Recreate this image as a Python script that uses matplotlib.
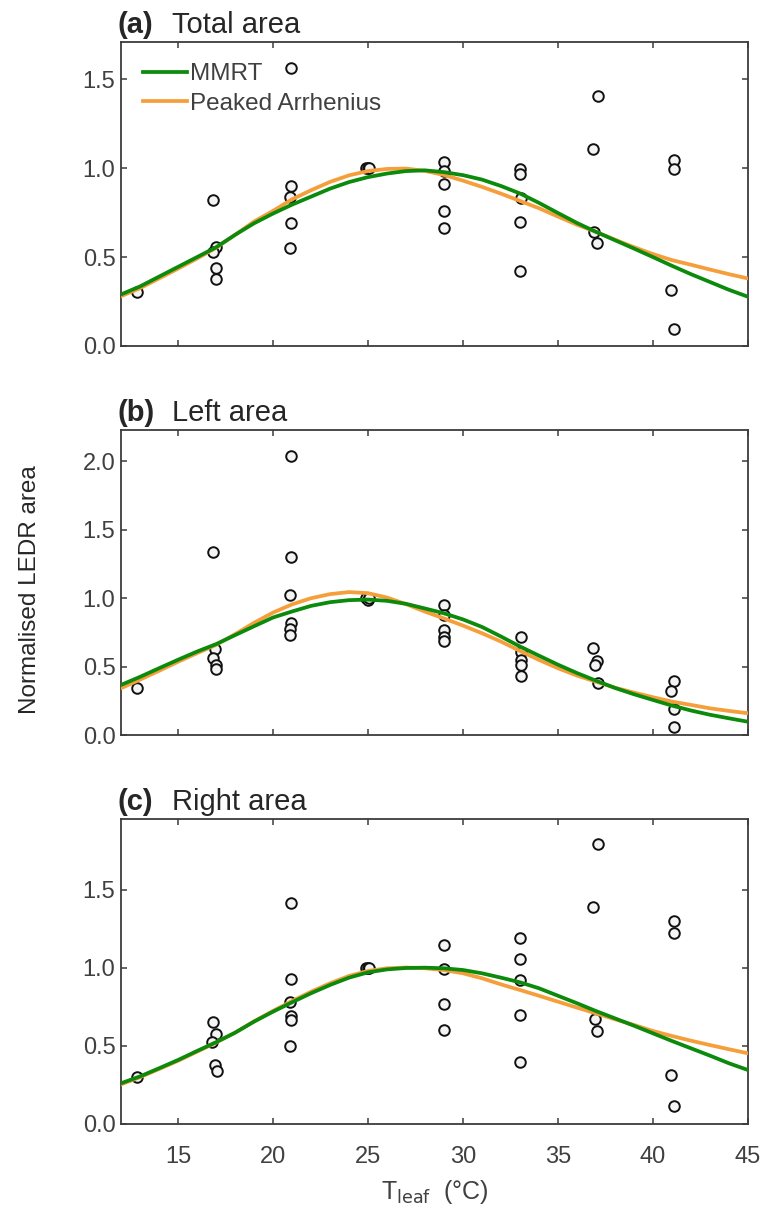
import matplotlib
matplotlib.use("Agg")
import matplotlib.pyplot as plt
import numpy as np

plt.rcParams['font.family'] = ['Liberation Sans', 'DejaVu Sans']

# ---------------- data ----------------
panel_letters = ["(a)", "(b)", "(c)"]
panel_titles = ["Total area", "Left area", "Right area"]
ylims = [1.71, 2.23, 1.955]
yticks_list = [[0.0, 0.5, 1.0, 1.5], [0.0, 0.5, 1.0, 1.5, 2.0], [0.0, 0.5, 1.0, 1.5]]
xticks = [15, 20, 25, 30, 35, 40, 45]

# observed points (T_leaf, normalised area)
a_T = [12.83, 16.83, 17.0, 16.83, 17.0, 17.0, 20.95, 20.95, 20.9, 20.95, 20.9,
       24.9, 25.0, 25.05, 28.98, 28.98, 28.98, 28.98, 28.98, 33.02, 33.02, 33.05, 33.02, 33.02,
       37.09, 36.83, 36.88, 37.05, 41.09, 41.09, 40.95, 41.09]
a_y = [0.305, 0.824, 0.558, 0.526, 0.436, 0.375, 1.566, 0.899, 0.839, 0.693, 0.549,
       1.0, 1.0, 1.0, 1.035, 0.983, 0.914, 0.760, 0.661, 0.998, 0.966, 0.830, 0.698, 0.421,
       1.404, 1.107, 0.642, 0.582, 1.049, 0.998, 0.315, 0.094]

b_T = [12.83, 16.83, 16.96, 16.83, 17.0, 16.98, 20.95, 20.95, 20.9, 20.95, 20.9, 20.9,
       24.9, 25.0, 25.05, 28.98, 28.98, 28.98, 28.98, 28.98, 33.05, 33.05, 33.05, 33.05, 33.05,
       36.83, 37.05, 36.95, 37.09, 41.09, 40.95, 41.09, 41.09]
b_y = [0.342, 1.335, 0.632, 0.566, 0.512, 0.481, 2.037, 1.298, 1.025, 0.818, 0.774, 0.732,
       1.0, 0.99, 1.0, 0.952, 0.878, 0.769, 0.720, 0.688, 0.720, 0.610, 0.549, 0.512, 0.434,
       0.637, 0.539, 0.512, 0.383, 0.395, 0.322, 0.188, 0.061]

c_T = [12.83, 16.83, 17.0, 16.8, 16.95, 17.05, 20.95, 20.95, 20.9, 20.95, 20.95, 20.9,
       24.9, 25.0, 25.05, 28.98, 28.98, 28.98, 28.98, 33.02, 33.02, 33.02, 33.02, 33.02,
       37.09, 36.83, 36.95, 37.05, 41.09, 41.09, 40.95, 41.09]
c_y = [0.299, 0.656, 0.577, 0.524, 0.378, 0.342, 1.419, 0.929, 0.780, 0.692, 0.667, 0.502,
       1.0, 1.0, 1.0, 1.147, 0.991, 0.767, 0.603, 1.190, 1.056, 0.923, 0.699, 0.400,
       1.793, 1.393, 0.671, 0.596, 1.301, 1.226, 0.314, 0.115]

curve_T = list(range(12, 46))
a_mmrt = [0.29, 0.335, 0.39, 0.445, 0.50, 0.555, 0.625, 0.69, 0.745, 0.795, 0.84, 0.885,
          0.922, 0.950, 0.970, 0.984, 0.988, 0.978, 0.961, 0.936, 0.900, 0.858, 0.805, 0.748,
          0.692, 0.642, 0.595, 0.548, 0.500, 0.451, 0.404, 0.360, 0.316, 0.277]
a_pa = [0.28, 0.325, 0.38, 0.435, 0.492, 0.552, 0.625, 0.70, 0.76, 0.825, 0.876, 0.923,
        0.960, 0.984, 0.996, 0.998, 0.985, 0.962, 0.930, 0.895, 0.857, 0.816, 0.775, 0.728,
        0.682, 0.642, 0.598, 0.556, 0.517, 0.483, 0.457, 0.430, 0.404, 0.380]
b_mmrt = [0.366, 0.425, 0.488, 0.55, 0.61, 0.664, 0.73, 0.795, 0.859, 0.903, 0.944, 0.971,
          0.986, 0.990, 0.981, 0.959, 0.925, 0.89, 0.845, 0.79, 0.72, 0.647, 0.58, 0.514,
          0.453, 0.397, 0.344, 0.298, 0.256, 0.215, 0.179, 0.148, 0.122, 0.097]
b_pa = [0.342, 0.405, 0.469, 0.535, 0.598, 0.659, 0.737, 0.82, 0.895, 0.955, 1.000, 1.030,
        1.045, 1.037, 1.005, 0.957, 0.902, 0.852, 0.800, 0.744, 0.683, 0.615, 0.549, 0.488,
        0.434, 0.390, 0.346, 0.310, 0.276, 0.244, 0.220, 0.195, 0.176, 0.159]
c_mmrt = [0.261, 0.305, 0.357, 0.41, 0.468, 0.524, 0.585, 0.656, 0.72, 0.78, 0.838, 0.891,
          0.938, 0.972, 0.991, 1.000, 1.002, 0.998, 0.987, 0.966, 0.938, 0.908, 0.870, 0.822,
          0.774, 0.724, 0.677, 0.630, 0.581, 0.532, 0.485, 0.438, 0.389, 0.346]
c_pa = [0.254, 0.30, 0.352, 0.405, 0.463, 0.522, 0.585, 0.658, 0.725, 0.788, 0.848, 0.902,
        0.949, 0.981, 0.998, 1.003, 0.998, 0.987, 0.966, 0.934, 0.895, 0.859, 0.822, 0.784,
        0.746, 0.709, 0.671, 0.635, 0.596, 0.564, 0.534, 0.506, 0.479, 0.453]

points = [(a_T, a_y), (b_T, b_y), (c_T, c_y)]
curves = [(a_mmrt, a_pa), (b_mmrt, b_pa), (c_mmrt, c_pa)]

GREEN = '#0b8a0b'
ORANGE = '#f59e3a'
SPINE = '#3c3c3c'
TXT = '#404040'
DARK = '#262626'

fig = plt.figure(figsize=(7.68, 12.18), dpi=100)
W, H = 768, 1218
boxes = [(42, 346), (430, 735), (819, 1124)]
left_px, right_px = 121, 748

for i, (top, bot) in enumerate(boxes):
    ax = fig.add_axes([left_px / W, 1 - bot / H, (right_px - left_px) / W, (bot - top) / H])
    T, y = points[i]
    ax.scatter(T, y, s=58, facecolors='#f4f4f4', edgecolors='#111111', linewidths=1.4, zorder=2)
    mm, pa = curves[i]
    ax.plot(curve_T, pa, color=ORANGE, lw=2.7, zorder=3, label='Peaked Arrhenius',
            solid_joinstyle='round')
    ax.plot(curve_T, mm, color=GREEN, lw=2.7, zorder=4, label='MMRT',
            solid_joinstyle='round')
    ax.set_xlim(12, 45)
    ax.set_ylim(0, ylims[i])
    ax.set_xticks(xticks)
    ax.set_yticks(yticks_list[i])
    ax.set_yticklabels([f"{v:.1f}" for v in yticks_list[i]])
    if i < 2:
        ax.set_xticklabels([])
    ax.tick_params(direction='in', top=True, right=True, length=4, width=1.1,
                   color=SPINE, labelcolor=TXT, labelsize=17, pad=4)
    ax.tick_params(axis='x', pad=16)
    for s in ax.spines.values():
        s.set_color(SPINE)
        s.set_linewidth(1.3)
    ax.annotate(panel_letters[i], xy=(0, 1), xycoords='axes fraction', xytext=(-2.5, 2.5),
                textcoords='offset points', fontsize=21, fontweight='bold', color=DARK,
                ha='left', va='bottom')
    ax.annotate(panel_titles[i], xy=(0, 1), xycoords='axes fraction', xytext=(36.5, 2.5),
                textcoords='offset points', fontsize=21, color=DARK,
                ha='left', va='bottom')
    if i == 0:
        h, l = ax.get_legend_handles_labels()
        leg = ax.legend(h[::-1], l[::-1], loc='upper left', frameon=False, fontsize=17.5,
                        handlelength=1.8, handletextpad=0.15, labelspacing=0.32,
                        borderaxespad=0.0, borderpad=0.0,
                        bbox_to_anchor=(22 / 627, 1 - 21 / 304))
        for t in leg.get_texts():
            t.set_color(TXT)
    if i == 2:
        ax.set_xlabel(r"T$_{\mathrm{leaf}}$  (°C)", fontsize=18, color=TXT, labelpad=7)

fig.text(30 / W, 1 - 590 / H, "Normalised LEDR area", rotation=90, fontsize=17.5,
         color=DARK, ha='center', va='center')

fig.savefig("out.png", dpi=100)
